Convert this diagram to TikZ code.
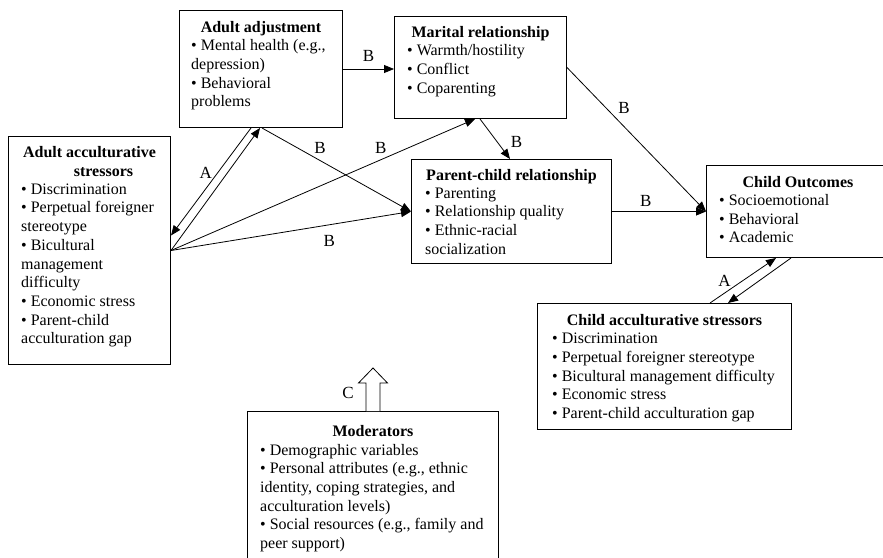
\documentclass[tikz,border=0pt]{standalone}
\usepackage{fontspec}
\setmainfont{Liberation Serif}
\usetikzlibrary{arrows.meta}

\begin{document}
\begin{tikzpicture}[x=1pt,y=-1pt,
    box/.style={draw,line width=1pt,anchor=north west,inner sep=0pt},
    head/.style={anchor=north,inner sep=0pt,align=center,
      font=\fontsize{16}{18.7}\selectfont\bfseries},
    body/.style={anchor=north west,inner sep=0pt,align=left,
      font=\fontsize{16}{18.7}\selectfont},
    conn/.style={line width=0.8pt,-{Triangle[length=10pt,width=8pt]}},
    lab/.style={inner sep=0pt,font=\fontsize{17}{20}\selectfont}]
  \useasboundingbox (0,0) rectangle (883,557);

  % boxes
  \node [box,minimum width=163pt,minimum height=117pt] (adj) at (179,10) {};
  \node [box,minimum width=172pt,minimum height=102pt] (mar) at (394,16) {};
  \node [box,minimum width=162pt,minimum height=228pt] (ast) at (8,136) {};
  \node [box,minimum width=200pt,minimum height=104pt] (pcr) at (411,159) {};
  \node [box,minimum width=183pt,minimum height=92pt] (cho) at (706,165) {};
  \node [box,minimum width=254pt,minimum height=126pt] (cst) at (537,303) {};
  \node [box,minimum width=251pt,minimum height=160pt] (mod) at (247,411) {};

  \node [head] (adjH) at ([yshift=-11pt]adj.north) {Adult adjustment};
  \node [body] (adjB) at ([shift={(12pt,-29.5pt)}]adj.north west)
    {• Mental health (e.g.,\\depression)\\• Behavioral\\problems};

  \node [head] (marH) at ([yshift=-10pt]mar.north) {Marital relationship};
  \node [body] (marB) at ([shift={(13pt,-28.5pt)}]mar.north west)
    {• Warmth/hostility\\• Conflict\\• Coparenting};

  \node [head] (astH) at ([yshift=-10pt]ast.north)
    {Adult acculturative\\\hspace*{28pt}stressors};
  \node [body] (astB) at ([shift={(13pt,-47.5pt)}]ast.north west)
    {• Discrimination\\• Perpetual foreigner\\stereotype\\• Bicultural\\management\\difficulty\\• Economic stress\\• Parent-child\\acculturation gap};

  \node [head] (pcrH) at ([yshift=-10.5pt]pcr.north) {Parent-child relationship};
  \node [body] (pcrB) at ([shift={(14pt,-28.5pt)}]pcr.north west)
    {• Parenting\\• Relationship quality\\• Ethnic-racial\\socialization};

  \node [head] (choH) at ([yshift=-11pt]cho.north) {Child Outcomes};
  \node [body] (choB) at ([shift={(13pt,-29pt)}]cho.north west)
    {• Socioemotional\\• Behavioral\\• Academic};

  \node [head] (cstH) at ([yshift=-11pt]cst.north) {Child acculturative stressors};
  \node [body] (cstB) at ([shift={(15pt,-30pt)}]cst.north west)
    {• Discrimination\\• Perpetual foreigner stereotype\\• Bicultural management difficulty\\• Economic stress\\• Parent-child acculturation gap};

  \node [head] (modH) at ([yshift=-14pt]mod.north) {Moderators};
  \node [body] (modB) at ([shift={(13pt,-32.7pt)}]mod.north west)
    {• Demographic variables\\• Personal attributes (e.g., ethnic\\identity, coping strategies, and\\acculturation levels)\\• Social resources (e.g., family and\\peer support)};

  % paths
  \draw [conn] (adj.east) -- (adj.east -| mar.west)
    node [lab,midway,above=7pt] {B};
  \draw [conn] (ast.east) -- ([xshift=81pt]adj.south west);
  \draw [conn] ([xshift=72pt]adj.south west) -- ([yshift=15pt]ast.east)
    node [lab,pos=0.42,left=5pt] {A};
  \draw [conn] ([xshift=83pt]adj.south west) -- (pcr.west)
    node [lab,pos=0.39,above=7pt] {B};
  \draw [conn] (ast.east) -- ([xshift=81pt]mar.south west)
    node [lab,pos=0.69,above=6pt] {B};
  \draw [conn] (ast.east) -- (pcr.west)
    node [lab,pos=0.66,below=10pt] {B};
  \draw [conn] ([xshift=86pt]mar.south west) -- ([xshift=99pt]pcr.north west)
    node [lab,pos=0.58,right=13pt] {B};
  \draw [conn] (mar.east) -- (cho.west)
    node [lab,pos=0.28,right=12pt] {B};
  \draw [conn] (pcr.east) -- (cho.west)
    node [lab,pos=0.36,above=5pt] {B};
  \draw [conn] ([xshift=173pt]cst.north west) -- ([xshift=70pt]cho.south west)
    node [lab,pos=0.5,left=12pt] {A};
  \draw [conn] ([xshift=85pt]cho.south west) -- ([xshift=191pt]cst.north west);

  \coordinate (tip) at ([yshift=43pt]mod.north);
  \draw [line width=0.8pt,fill=white]
    ([xshift=-7pt]mod.north) -- ++(0,-28) node [lab,pos=0.65,left=12pt] {C}
    -- ++(-7.5,0) -- (tip) -- ++(14.5,15) -- ++(-7.5,0) -- ++(0,28);
\end{tikzpicture}
\end{document}
